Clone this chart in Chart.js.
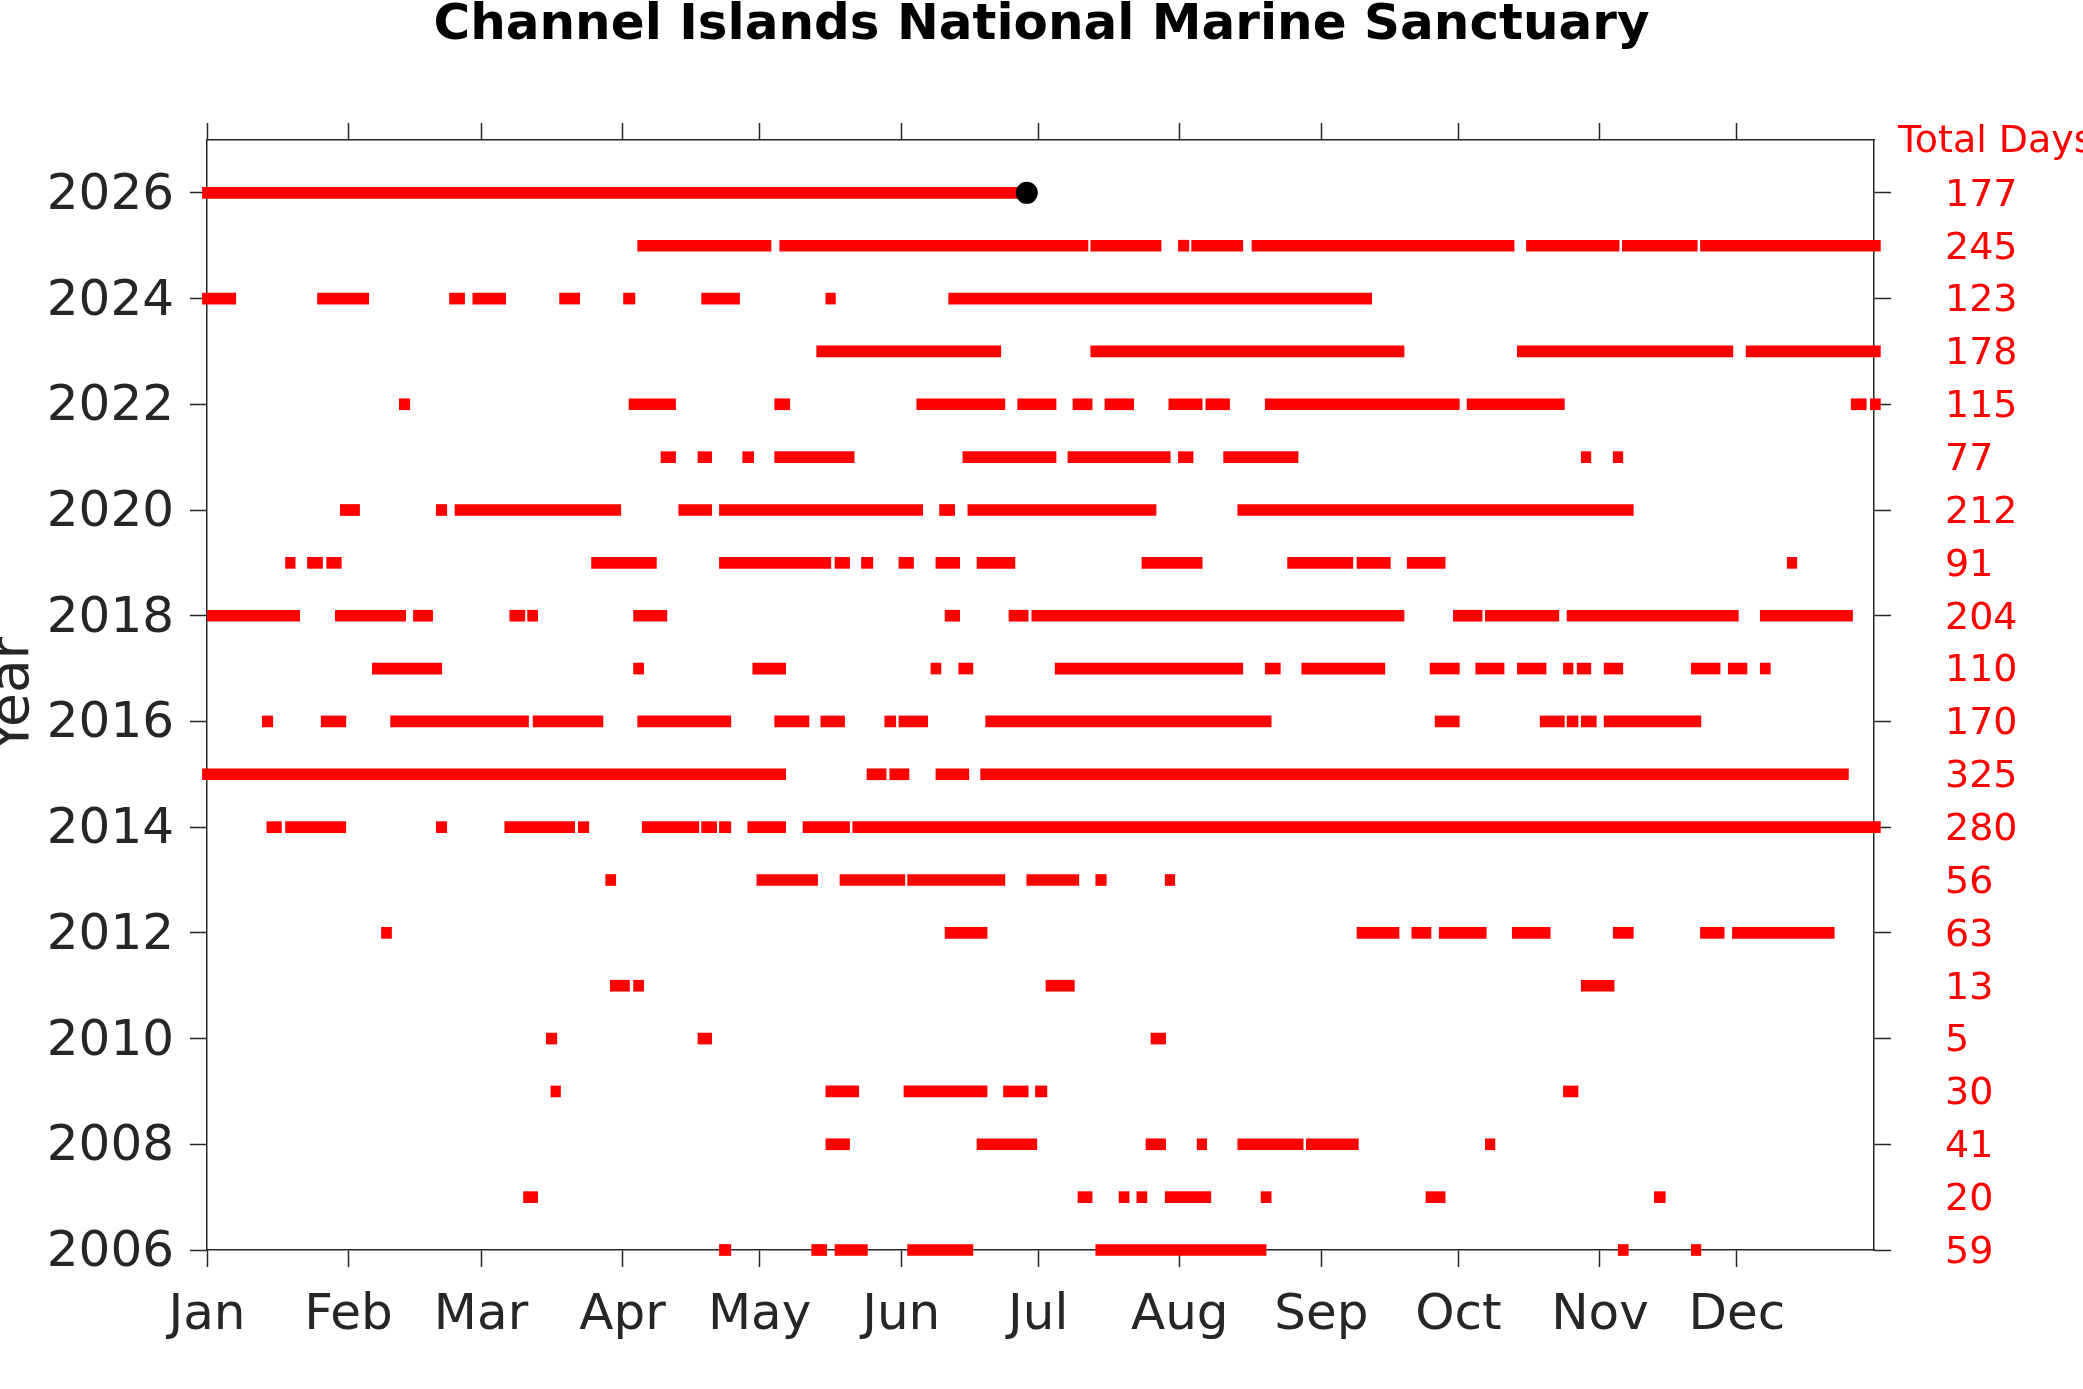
<!DOCTYPE html>
<html lang="en">
<head>
<meta charset="UTF-8">
<title>Channel Islands National Marine Sanctuary</title>
<script src="https://cdn.jsdelivr.net/npm/chart.js@4.4.1/dist/chart.umd.min.js"></script>
<style>
  html, body { margin: 0; padding: 0; background: #fff; overflow: hidden; }
  #wrap { width: 2083px; height: 1389px; }
</style>
</head>
<body>
<div id="wrap"><canvas id="grafico"></canvas></div>
<script>
// eixo x: dia do ano (0 = 1 jan), calendario de ano bissexto
const monthLabels = ['Jan', 'Feb', 'Mar', 'Apr', 'May', 'Jun', 'Jul', 'Aug', 'Sep', 'Oct', 'Nov', 'Dec'];
const monthStarts = [0, 31, 60, 91, 121, 152, 182, 213, 244, 274, 305, 335];

const years = [2006, 2007, 2008, 2009, 2010, 2011, 2012, 2013, 2014, 2015, 2016,
               2017, 2018, 2019, 2020, 2021, 2022, 2023, 2024, 2025, 2026];
const yearTicks = [2006, 2008, 2010, 2012, 2014, 2016, 2018, 2020, 2022, 2024, 2026];
const totalDays = [59, 20, 41, 30, 5, 13, 63, 56, 280, 325, 170,
                   110, 204, 91, 212, 77, 115, 178, 123, 245, 177];

// trechos [inicio, fim] de cada ano
const seg2006 = [[112.2,114.7],[132.4,135.7],[137.5,144.6],[153.4,167.7],[194.6,231.9],[309.0,311.2],[325.0,327.1]];
const seg2007 = [[69.3,72.4],[190.7,193.8],[199.7,201.9],[203.6,205.8],[209.8,219.8],[230.8,233.0],[266.9,271.1],[316.9,319.3]];
const seg2008 = [[135.5,140.7],[168.6,181.7],[205.6,209.9],[216.8,218.9],[225.7,240.0],[240.7,252.1],[279.9,282.0]];
const seg2009 = [[75.3,77.4],[135.5,142.7],[152.6,170.8],[174.4,179.8],[181.4,183.9],[297.0,300.2]];
const seg2010 = [[74.3,76.6],[107.5,110.5],[206.7,209.9]];
const seg2011 = [[88.3,92.5],[93.4,95.6],[183.7,189.9],[300.9,308.1]];
const seg2012 = [[38.2,40.4],[161.6,170.8],[251.8,261.0],[263.8,268.0],[269.8,280.1],[285.8,294.1],[307.9,312.3],[327.0,332.2],[334.0,356.3]];
const seg2013 = [[87.3,89.5],[120.4,133.7],[138.6,152.8],[153.4,174.7],[179.5,190.9],[194.6,196.9],[209.8,211.9]];
const seg2014 = [[13.1,16.3],[17.2,30.4],[50.2,52.5],[65.2,80.5],[81.3,83.6],[95.3,107.7],[108.3,111.6],[112.2,114.7],[118.4,126.7],[130.5,140.7],[141.4,366.4]];
const seg2015 = [[-1.0,126.7],[144.5,148.7],[149.5,153.7],[159.6,166.8],[169.4,359.4]];
const seg2016 = [[12.1,14.4],[25.0,30.4],[40.2,70.4],[71.4,86.7],[94.3,114.7],[124.3,131.8],[134.4,139.6],[148.4,150.8],[151.5,157.8],[170.5,233.0],[268.9,274.2],[291.9,297.2],[297.8,300.2],[300.9,304.2],[305.9,327.1]];
const seg2017 = [[36.2,51.4],[93.4,95.6],[119.5,126.7],[158.5,160.7],[164.6,167.7],[185.7,226.8],[231.7,235.0],[239.7,257.9],[267.8,274.2],[277.8,284.0],[286.9,293.2],[297.0,299.1],[300.0,303.0],[305.9,310.0],[325.0,331.3],[333.1,337.2],[340.1,342.3]];
const seg2018 = [[0.1,20.3],[28.1,43.5],[45.2,49.4],[66.3,69.6],[70.2,72.4],[93.4,100.7],[161.6,164.8],[175.6,179.8],[180.6,262.1],[272.9,279.2],[279.9,296.0],[297.8,335.3],[340.1,360.3]];
const seg2019 = [[17.2,19.3],[22.0,25.3],[26.2,29.4],[84.2,98.4],[112.2,136.6],[137.5,140.7],[143.3,145.8],[151.5,154.7],[159.6,164.8],[168.6,176.9],[204.7,217.9],[236.6,250.9],[251.8,259.1],[262.8,271.1],[346.0,348.1]];
const seg2020 = [[29.2,33.4],[50.2,52.5],[54.3,90.6],[103.3,110.5],[112.2,156.7],[160.4,163.7],[166.6,207.8],[225.7,312.3]];
const seg2021 = [[99.4,102.6],[107.5,110.5],[117.3,119.7],[124.3,141.7],[165.5,185.9],[188.5,210.9],[212.7,215.9],[222.6,238.9],[300.9,303.0],[307.9,310.0]];
const seg2022 = [[42.1,44.4],[92.4,102.6],[124.3,127.6],[155.4,174.7],[177.5,185.9],[189.6,193.8],[196.6,202.9],[210.6,217.9],[218.7,223.9],[231.7,274.2],[275.9,297.2],[360.0,363.3],[364.2,366.4]];
const seg2023 = [[133.5,173.8],[193.5,262.1],[286.9,334.1],[337.0,366.4]];
const seg2024 = [[-1.0,6.3],[24.2,35.4],[53.1,56.4],[58.2,65.4],[77.2,81.6],[91.2,93.7],[108.3,116.6],[135.5,137.6],[162.4,255.0]];
const seg2025 = [[94.3,123.5],[125.4,192.9],[193.5,208.9],[212.7,215.0],[215.6,226.8],[228.8,286.2],[288.9,309.2],[309.9,326.3],[327.0,366.4]];
const seg2026 = [[-1.0,179.5]];

// ultimo dia registrado (ponto preto)
const lastDay = 179.5;
const lastYear = 2026;

const segmentsByYear = [seg2006, seg2007, seg2008, seg2009, seg2010, seg2011, seg2012, seg2013,
  seg2014, seg2015, seg2016, seg2017, seg2018, seg2019, seg2020, seg2021, seg2022, seg2023,
  seg2024, seg2025, seg2026];

const FONTE = "'DejaVu Sans', 'Liberation Sans', sans-serif";
const CINZA = '#262626';
Chart.defaults.font.family = FONTE;

const barras = [];
segmentsByYear.forEach(function (lista, i) {
  lista.forEach(function (s) {
    barras.push({ y: years[i], x: [s[0], s[1]] });
  });
});

// textos fora dos eixos: "Year" (cortado na borda) e "Total Days"
const textosExtras = {
  id: 'textosExtras',
  afterDraw(chart) {
    const ctx = chart.ctx;
    const area = chart.chartArea;
    ctx.save();
    ctx.fillStyle = CINZA;
    ctx.font = '55px ' + FONTE;
    ctx.textAlign = 'center';
    ctx.textBaseline = 'alphabetic';
    ctx.translate(28, (area.top + area.bottom) / 2);
    ctx.rotate(-Math.PI / 2);
    ctx.fillText('Year', 0, 0);
    ctx.restore();

    ctx.save();
    ctx.fillStyle = '#ff0000';
    ctx.font = '38px ' + FONTE;
    ctx.textAlign = 'left';
    ctx.textBaseline = 'alphabetic';
    ctx.fillText('Total Days', area.right + 24, 152);
    ctx.restore();
  }
};

function eixoX(pos) {
  return {
    type: 'linear',
    position: pos,
    min: 0,
    max: 365,
    offset: false,
    afterBuildTicks: function (scale) {
      scale.ticks = monthStarts.map(function (v) { return { value: v }; });
    },
    afterFit: function (scale) {
      scale.height = pos === 'top' ? 89 : 139;
    },
    ticks: {
      display: pos === 'bottom',
      autoSkip: false,
      maxRotation: 0,
      color: CINZA,
      font: { size: 50 },
      padding: 19,
      callback: function (v, i) { return monthLabels[i]; }
    },
    grid: { offset: false, drawOnChartArea: false, tickLength: 17, tickColor: CINZA, tickWidth: 1.5 },
    border: { color: CINZA, width: 1.5 }
  };
}

new Chart(document.getElementById('grafico'), {
  data: {
    datasets: [
      {
        type: 'scatter',
        label: 'Último dia',
        data: [{ x: lastDay, y: lastYear }],
        xAxisID: 'x',
        yAxisID: 'y',
        pointRadius: 11,
        pointBackgroundColor: '#000',
        pointBorderWidth: 0,
        clip: false
      },
      {
        type: 'bar',
        label: 'Dias',
        indexAxis: 'y',
        data: barras,
        xAxisID: 'x',
        yAxisID: 'y',
        backgroundColor: '#ff0000',
        borderWidth: 0,
        barThickness: 11,
        grouped: false,
        clip: false
      }
    ]
  },
  options: {
    responsive: true,
    maintainAspectRatio: false,
    devicePixelRatio: 1,
    animation: false,
    layout: { padding: 0 },
    plugins: {
      legend: { display: false },
      tooltip: { enabled: false },
      title: {
        display: true,
        text: 'Channel Islands National Marine Sanctuary',
        color: '#000',
        font: { size: 50, weight: 'bold', lineHeight: 1 },
        padding: { top: 1, bottom: 0 }
      }
    },
    scales: {
      x: eixoX('bottom'),
      x2: eixoX('top'),
      y: {
        type: 'linear',
        position: 'left',
        min: 2006,
        max: 2027,
        offset: false,
        afterBuildTicks: function (scale) {
          scale.ticks = yearTicks.map(function (v) { return { value: v }; });
        },
        afterFit: function (scale) { scale.width = 207; },
        ticks: {
          color: CINZA,
          font: { size: 50 },
          padding: 16,
          labelOffset: 3,
          callback: function (v) { return String(v); }
        },
        grid: { offset: false, drawOnChartArea: false, tickLength: 17, tickColor: CINZA, tickWidth: 1.5 },
        border: { color: CINZA, width: 1.5 }
      },
      y2: {
        type: 'linear',
        position: 'right',
        min: 2006,
        max: 2027,
        offset: false,
        afterBuildTicks: function (scale) {
          scale.ticks = years.map(function (v) { return { value: v }; });
        },
        afterFit: function (scale) { scale.width = 209; },
        ticks: {
          color: '#ff0000',
          font: { size: 38 },
          padding: 54,
          labelOffset: 3,
          callback: function (v) { return String(totalDays[years.indexOf(v)]); }
        },
        grid: {
          offset: false,
          drawOnChartArea: false,
          tickLength: 17,
          tickWidth: 1.5,
          tickColor: function (c) {
            return (c.tick && c.tick.value % 2 === 0) ? CINZA : 'rgba(0,0,0,0)';
          }
        },
        border: { color: CINZA, width: 1.5 }
      }
    }
  },
  plugins: [textosExtras]
});
</script>
</body>
</html>
